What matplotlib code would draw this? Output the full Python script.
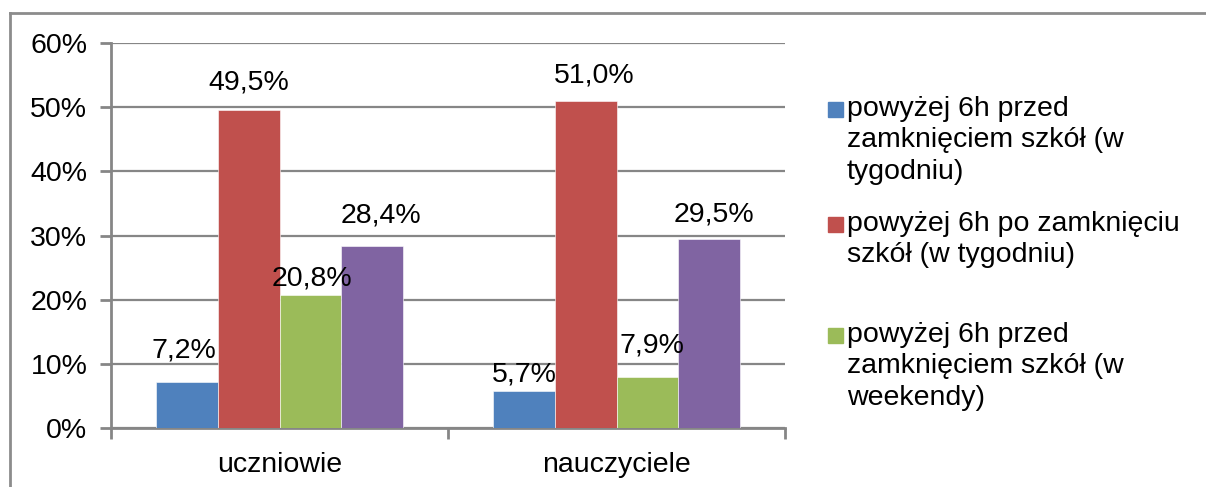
import matplotlib
matplotlib.use("Agg")
import matplotlib.pyplot as plt
from matplotlib.lines import Line2D
from matplotlib.patches import Rectangle
import numpy as np

# data
categories = ["uczniowie", "nauczyciele"]
series_names = [
    "powyżej 6h przed\nzamknięciem szkół (w\ntygodniu)",
    "powyżej 6h po zamknięciu\nszkół (w tygodniu)",
    "powyżej 6h przed\nzamknięciem szkół (w\nweekendy)",
    "powyżej 6h po zamknięciu\nszkół (w weekendy)",
]
values = [
    [7.2, 5.7],
    [49.5, 51.0],
    [20.8, 7.9],
    [28.4, 29.5],
]
value_labels = [
    ["7,2%", "5,7%"],
    ["49,5%", "51,0%"],
    ["20,8%", "7,9%"],
    ["28,4%", "29,5%"],
]
colors = ["#4F81BD", "#C0504D", "#9BBB59", "#8064A2"]

# label nudges in pixels (labels were moved by hand in the original)
label_dx = [[-3, 0], [0, 8], [2, 5], [9, 5]]
label_dy = [[24, 10], [21, 18], [9, 25], [23, 17]]

plt.rcParams['font.family'] = ['Liberation Sans', 'DejaVu Sans']
fs = 20.5
grey = "#868686"

fig = plt.figure(figsize=(12.06, 4.87), dpi=100)
ax = fig.add_axes([111/1206, 1-428/487, (785-111)/1206, (428-43)/487])

x = np.arange(len(categories))
w = 0.1825
for i in range(len(values)):
    pos = x + (i - 1.5) * w
    bars = ax.bar(pos, values[i], width=w, color=colors[i], edgecolor="white",
                  linewidth=0.4, zorder=3)
    for j, b in enumerate(bars):
        ax.annotate(value_labels[i][j], (b.get_x() + b.get_width()/2, b.get_height()),
                    xytext=(label_dx[i][j], label_dy[i][j]), textcoords="offset pixels",
                    ha="center", va="baseline", fontsize=fs, zorder=4)

ax.set_ylim(0, 60)
ax.set_xlim(-0.5, len(categories) - 0.5)
ax.set_yticks(np.arange(0, 61, 10))
ax.set_yticklabels([f"{v}%" for v in range(0, 61, 10)])
ax.set_xticks(x)
ax.set_xticklabels(categories)
ax.set_xticks(np.arange(-0.5, len(categories), 1), minor=True)
ax.tick_params(axis="x", which="major", length=0, labelsize=fs, pad=17)
ax.tick_params(axis="x", which="minor", length=8, width=2, color=grey, direction="out")
ax.tick_params(axis="y", length=8, width=2, color=grey, labelsize=fs, pad=9)
ax.yaxis.grid(True, color=grey, linewidth=1.6, zorder=0)
ax.set_axisbelow(True)
for s in ["top", "right"]:
    ax.spines[s].set_visible(False)
for s in ["left", "bottom"]:
    ax.spines[s].set_color(grey)
    ax.spines[s].set_linewidth(2)

# legend (only three entries fit in the original box)
leg_tops = [96, 211, 322]
for i in range(3):
    fig.patches.append(Rectangle((828/1206, 1-(leg_tops[i]+21)/487), 15/1206, 15/487,
                                 transform=fig.transFigure, color=colors[i]))
    fig.text(847/1206, 1-leg_tops[i]/487, series_names[i], fontsize=fs,
             va="top", ha="left", linespacing=1.27)

# outer chart frame, cropped at right and bottom
fig.add_artist(Line2D([10/1206, 1], [1-13/487, 1-13/487], color="#8c8c8c", linewidth=2))
fig.add_artist(Line2D([10/1206, 10/1206], [0, 1-13/487], color="#8c8c8c", linewidth=2))

fig.savefig("out.png", dpi=100)
